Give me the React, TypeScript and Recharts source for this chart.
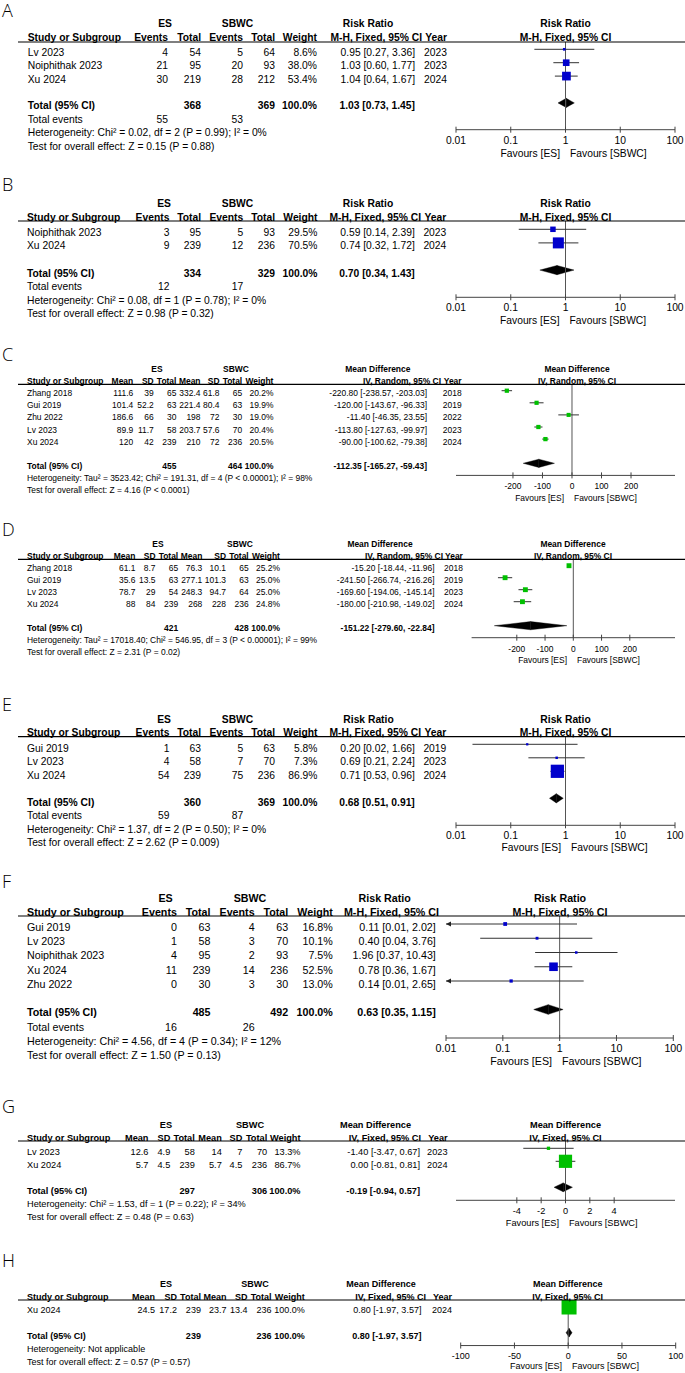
import React from "react";
import {
  ComposedChart,
  Scatter,
  ErrorBar,
  XAxis,
  YAxis,
  ReferenceLine,
  ReferenceArea,
} from "recharts";

const FONT = "'Liberation Sans', Arial, Helvetica, sans-serif";
const BLUE = "#0000cc";
const GREEN = "#00c000";
const AX_H = 24;

// A - risk ratio
const A_STUDY = ["Lv 2023", "Noiphithak 2023", "Xu 2024"];
const A_ES_EVENTS = [4, 21, 30];
const A_ES_TOTAL = [54, 95, 219];
const A_SBWC_EVENTS = [5, 20, 28];
const A_SBWC_TOTAL = [64, 93, 212];
const A_WEIGHT = [8.6, 38.0, 53.4];
const A_EST = [0.95, 1.03, 1.04];
const A_LOW = [0.27, 0.6, 0.64];
const A_HIGH = [3.36, 1.77, 1.67];
const A_YEAR = [2023, 2023, 2024];
const A_TOTAL_N = [368, 369];
const A_POOLED = [1.03, 0.73, 1.45];
const A_TOTAL_EVENTS = [55, 53];
const A_HET = "Heterogeneity: Chi² = 0.02, df = 2 (P = 0.99); I² = 0%";
const A_OVERALL = "Test for overall effect: Z = 0.15 (P = 0.88)";

// B - risk ratio
const B_STUDY = ["Noiphithak 2023", "Xu 2024"];
const B_ES_EVENTS = [3, 9];
const B_ES_TOTAL = [95, 239];
const B_SBWC_EVENTS = [5, 12];
const B_SBWC_TOTAL = [93, 236];
const B_WEIGHT = [29.5, 70.5];
const B_EST = [0.59, 0.74];
const B_LOW = [0.14, 0.32];
const B_HIGH = [2.39, 1.72];
const B_YEAR = [2023, 2024];
const B_TOTAL_N = [334, 329];
const B_POOLED = [0.7, 0.34, 1.43];
const B_TOTAL_EVENTS = [12, 17];
const B_HET = "Heterogeneity: Chi² = 0.08, df = 1 (P = 0.78); I² = 0%";
const B_OVERALL = "Test for overall effect: Z = 0.98 (P = 0.32)";

// C - mean difference, random
const C_STUDY = ["Zhang 2018", "Gui 2019", "Zhu 2022", "Lv 2023", "Xu 2024"];
const C_ES_MEAN = [111.6, 101.4, 186.6, 89.9, 120];
const C_ES_SD = [39, 52.2, 66, 11.7, 42];
const C_ES_TOTAL = [65, 63, 30, 58, 239];
const C_SBWC_MEAN = [332.4, 221.4, 198, 203.7, 210];
const C_SBWC_SD = [61.8, 80.4, 72, 57.6, 72];
const C_SBWC_TOTAL = [65, 63, 30, 70, 236];
const C_WEIGHT = [20.2, 19.9, 19.0, 20.4, 20.5];
const C_EST = [-220.8, -120.0, -11.4, -113.8, -90.0];
const C_LOW = [-238.57, -143.67, -46.35, -127.63, -100.62];
const C_HIGH = [-203.03, -96.33, 23.55, -99.97, -79.38];
const C_YEAR = [2018, 2019, 2022, 2023, 2024];
const C_TOTAL_N = [455, 464];
const C_POOLED = [-112.35, -165.27, -59.43];
const C_HET =
  "Heterogeneity: Tau² = 3523.42; Chi² = 191.31, df = 4 (P < 0.00001); I² = 98%";
const C_OVERALL = "Test for overall effect: Z = 4.16 (P < 0.0001)";

// D - mean difference, random
const D_STUDY = ["Zhang 2018", "Gui 2019", "Lv 2023", "Xu 2024"];
const D_ES_MEAN = [61.1, 35.6, 78.7, 88];
const D_ES_SD = [8.7, 13.5, 29, 84];
const D_ES_TOTAL = [65, 63, 54, 239];
const D_SBWC_MEAN = [76.3, 277.1, 248.3, 268];
const D_SBWC_SD = [10.1, 101.3, 94.7, 228];
const D_SBWC_TOTAL = [65, 63, 64, 236];
const D_WEIGHT = [25.2, 25.0, 25.0, 24.8];
const D_EST = [-15.2, -241.5, -169.6, -180.0];
const D_LOW = [-18.44, -266.74, -194.06, -210.98];
const D_HIGH = [-11.96, -216.26, -145.14, -149.02];
const D_YEAR = [2018, 2019, 2023, 2024];
const D_TOTAL_N = [421, 428];
const D_POOLED = [-151.22, -279.6, -22.84];
const D_HET =
  "Heterogeneity: Tau² = 17018.40; Chi² = 546.95, df = 3 (P < 0.00001); I² = 99%";
const D_OVERALL = "Test for overall effect: Z = 2.31 (P = 0.02)";

// E - risk ratio
const E_STUDY = ["Gui 2019", "Lv 2023", "Xu 2024"];
const E_ES_EVENTS = [1, 4, 54];
const E_ES_TOTAL = [63, 58, 239];
const E_SBWC_EVENTS = [5, 7, 75];
const E_SBWC_TOTAL = [63, 70, 236];
const E_WEIGHT = [5.8, 7.3, 86.9];
const E_EST = [0.2, 0.69, 0.71];
const E_LOW = [0.02, 0.21, 0.53];
const E_HIGH = [1.66, 2.24, 0.96];
const E_YEAR = [2019, 2023, 2024];
const E_TOTAL_N = [360, 369];
const E_POOLED = [0.68, 0.51, 0.91];
const E_TOTAL_EVENTS = [59, 87];
const E_HET = "Heterogeneity: Chi² = 1.37, df = 2 (P = 0.50); I² = 0%";
const E_OVERALL = "Test for overall effect: Z = 2.62 (P = 0.009)";

// F - risk ratio (no year column)
const F_STUDY = ["Gui 2019", "Lv 2023", "Noiphithak 2023", "Xu 2024", "Zhu 2022"];
const F_ES_EVENTS = [0, 1, 4, 11, 0];
const F_ES_TOTAL = [63, 58, 95, 239, 30];
const F_SBWC_EVENTS = [4, 3, 2, 14, 3];
const F_SBWC_TOTAL = [63, 70, 93, 236, 30];
const F_WEIGHT = [16.8, 10.1, 7.5, 52.5, 13.0];
const F_EST = [0.11, 0.4, 1.96, 0.78, 0.14];
const F_LOW = [0.01, 0.04, 0.37, 0.36, 0.01];
const F_HIGH = [2.02, 3.76, 10.43, 1.67, 2.65];
const F_TOTAL_N = [485, 492];
const F_POOLED = [0.63, 0.35, 1.15];
const F_TOTAL_EVENTS = [16, 26];
const F_HET = "Heterogeneity: Chi² = 4.56, df = 4 (P = 0.34); I² = 12%";
const F_OVERALL = "Test for overall effect: Z = 1.50 (P = 0.13)";

// G - mean difference, fixed
const G_STUDY = ["Lv 2023", "Xu 2024"];
const G_ES_MEAN = [12.6, 5.7];
const G_ES_SD = [4.9, 4.5];
const G_ES_TOTAL = [58, 239];
const G_SBWC_MEAN = [14, 5.7];
const G_SBWC_SD = [7, 4.5];
const G_SBWC_TOTAL = [70, 236];
const G_WEIGHT = [13.3, 86.7];
const G_EST = [-1.4, 0.0];
const G_LOW = [-3.47, -0.81];
const G_HIGH = [0.67, 0.81];
const G_YEAR = [2023, 2024];
const G_TOTAL_N = [297, 306];
const G_POOLED = [-0.19, -0.94, 0.57];
const G_HET = "Heterogeneity: Chi² = 1.53, df = 1 (P = 0.22); I² = 34%";
const G_OVERALL = "Test for overall effect: Z = 0.48 (P = 0.63)";

// H - mean difference, fixed
const H_STUDY = ["Xu 2024"];
const H_ES_MEAN = [24.5];
const H_ES_SD = [17.2];
const H_ES_TOTAL = [239];
const H_SBWC_MEAN = [23.7];
const H_SBWC_SD = [13.4];
const H_SBWC_TOTAL = [236];
const H_WEIGHT = [100.0];
const H_EST = [0.8];
const H_LOW = [-1.97];
const H_HIGH = [3.57];
const H_YEAR = [2024];
const H_TOTAL_N = [239, 236];
const H_POOLED = [0.8, -1.97, 3.57];
const H_HET = "Heterogeneity: Not applicable";
const H_OVERALL = "Test for overall effect: Z = 0.57 (P = 0.57)";

// axes
const RR_DOMAIN = [0.01, 100];
const RR_TICKS = [0.01, 0.1, 1, 10, 100];
const C_DOMAIN = [-393, 349];
const D_DOMAIN = [-360, 360];
const MD_TICKS = [-200, -100, 0, 100, 200];
const G_DOMAIN = [-9, 9];
const G_TICKS = [-4, -2, 0, 2, 4];
const H_DOMAIN = [-100, 100];
const H_TICKS = [-100, -50, 0, 50, 100];

const f2 = (v: number) => v.toFixed(2);
const ciText = (e: number, l: number, h: number) => `${f2(e)} [${f2(l)}, ${f2(h)}]`;
const pct = (w: number) => `${w.toFixed(1)}%`;

type Row = { est: number; lo: number; hi: number; w: number; name: string; cells: string[] };

function rrRows(study, e1, n1, e2, n2, w, est, lo, hi, year?): Row[] {
  return study.map((s, i) => ({
    name: s,
    est: est[i],
    lo: lo[i],
    hi: hi[i],
    w: w[i],
    cells: [
      String(e1[i]),
      String(n1[i]),
      String(e2[i]),
      String(n2[i]),
      pct(w[i]),
      ciText(est[i], lo[i], hi[i]),
      ...(year ? [String(year[i])] : []),
    ],
  }));
}

function mdRows(study, m1, sd1, n1, m2, sd2, n2, w, est, lo, hi, year): Row[] {
  return study.map((s, i) => ({
    name: s,
    est: est[i],
    lo: lo[i],
    hi: hi[i],
    w: w[i],
    cells: [
      String(m1[i]),
      String(sd1[i]),
      String(n1[i]),
      String(m2[i]),
      String(sd2[i]),
      String(n2[i]),
      pct(w[i]),
      ciText(est[i], lo[i], hi[i]),
      String(year[i]),
    ],
  }));
}

const PANELS = [
  {
    letter: "A",
    kind: "RR",
    method: "M-H, Fixed, 95% CI",
    rows: rrRows(A_STUDY, A_ES_EVENTS, A_ES_TOTAL, A_SBWC_EVENTS, A_SBWC_TOTAL, A_WEIGHT, A_EST, A_LOW, A_HIGH, A_YEAR),
    totals: A_TOTAL_N,
    pooled: A_POOLED,
    events: A_TOTAL_EVENTS,
    het: A_HET,
    overall: A_OVERALL,
    domain: RR_DOMAIN,
    ticks: RR_TICKS,
    L: { h: 160, fs: 10.3, sx: 1, letterBase: 17, groupY: 23.5, subY: 37, lineY: 42, firstMark: 49.3, rowH: 13.4, textOff: 2.7, axisGap: 2, nameX: 27.7, cols: [168, 201, 243, 275, 317, 415, 447], ciHead: 422, esC: 165, sbC: 237.5, effC: 368, plotL: 456, plotR: 675, plotHead: 565.5, favX: 565, favDy: 27, tickDy: 14 },
  },
  {
    letter: "B",
    kind: "RR",
    method: "M-H, Fixed, 95% CI",
    rows: rrRows(B_STUDY, B_ES_EVENTS, B_ES_TOTAL, B_SBWC_EVENTS, B_SBWC_TOTAL, B_WEIGHT, B_EST, B_LOW, B_HIGH, B_YEAR),
    totals: B_TOTAL_N,
    pooled: B_POOLED,
    events: B_TOTAL_EVENTS,
    het: B_HET,
    overall: B_OVERALL,
    domain: RR_DOMAIN,
    ticks: RR_TICKS,
    L: { h: 170, fs: 10.3, sx: 1, letterBase: 31, groupY: 43.3, subY: 57.3, lineY: 61, firstMark: 69.3, rowH: 13.6, textOff: 2.7, axisGap: 2, nameX: 27, cols: [169.4, 201, 243.2, 275, 317.5, 414.8, 446.3], ciHead: 421, esC: 164, sbC: 237.5, effC: 368, plotL: 456, plotR: 675, plotHead: 565.5, favX: 564.5, favDy: 27, tickDy: 14 },
  },
  {
    letter: "C",
    kind: "MD",
    method: "IV, Random, 95% CI",
    rows: mdRows(C_STUDY, C_ES_MEAN, C_ES_SD, C_ES_TOTAL, C_SBWC_MEAN, C_SBWC_SD, C_SBWC_TOTAL, C_WEIGHT, C_EST, C_LOW, C_HIGH, C_YEAR),
    totals: C_TOTAL_N,
    pooled: C_POOLED,
    het: C_HET,
    overall: C_OVERALL,
    domain: C_DOMAIN,
    ticks: MD_TICKS,
    L: { h: 175, fs: 9, sx: 0.94, letterBase: 31, groupY: 38.3, subY: 51, lineY: 54.3, firstMark: 60.7, rowH: 12.1, textOff: 2.3, axisGap: 1, nameX: 27, cols: [133.2, 153.7, 176.4, 200.5, 219.5, 242.2, 273.4, 427, 461.6], ciHead: 441, esC: 157, sbC: 236, effC: 377.8, plotL: 456, plotR: 675, plotHead: 577, favX: 569, favDy: 26, tickDy: 14 },
  },
  {
    letter: "D",
    kind: "MD",
    method: "IV, Random, 95% CI",
    rows: mdRows(D_STUDY, D_ES_MEAN, D_ES_SD, D_ES_TOTAL, D_SBWC_MEAN, D_SBWC_SD, D_SBWC_TOTAL, D_WEIGHT, D_EST, D_LOW, D_HIGH, D_YEAR),
    totals: D_TOTAL_N,
    pooled: D_POOLED,
    het: D_HET,
    overall: D_OVERALL,
    domain: D_DOMAIN,
    ticks: MD_TICKS,
    L: { h: 175, fs: 9, sx: 0.94, letterBase: 31, groupY: 38.3, subY: 51, lineY: 54.3, firstMark: 60.7, rowH: 12, textOff: 2.2, axisGap: 1, nameX: 27, cols: [135.4, 155.5, 178.2, 202.3, 226, 248.7, 279.9, 434.5, 462.9], ciHead: 443, esC: 158, sbC: 240, effC: 380, plotL: 471.6, plotR: 675, plotHead: 573, favX: 572, favDy: 25, tickDy: 14 },
  },
  {
    letter: "E",
    kind: "RR",
    method: "M-H, Fixed, 95% CI",
    rows: rrRows(E_STUDY, E_ES_EVENTS, E_ES_TOTAL, E_SBWC_EVENTS, E_SBWC_TOTAL, E_WEIGHT, E_EST, E_LOW, E_HIGH, E_YEAR),
    totals: E_TOTAL_N,
    pooled: E_POOLED,
    events: E_TOTAL_EVENTS,
    het: E_HET,
    overall: E_OVERALL,
    domain: RR_DOMAIN,
    ticks: RR_TICKS,
    L: { h: 175, fs: 10.3, sx: 1, letterBase: 31, groupY: 39, subY: 52.3, lineY: 56.7, firstMark: 64.3, rowH: 13.5, textOff: 3.5, axisGap: 2, nameX: 27, cols: [169.4, 201, 243.2, 275, 317.5, 414.8, 446.3], ciHead: 421, esC: 164, sbC: 237.5, effC: 368.5, plotL: 456, plotR: 675, plotHead: 565.5, favX: 566, favDy: 26, tickDy: 14 },
  },
  {
    letter: "F",
    kind: "RR",
    method: "M-H, Fixed, 95% CI",
    rows: rrRows(F_STUDY, F_ES_EVENTS, F_ES_TOTAL, F_SBWC_EVENTS, F_SBWC_TOTAL, F_WEIGHT, F_EST, F_LOW, F_HIGH),
    totals: F_TOTAL_N,
    pooled: F_POOLED,
    events: F_TOTAL_EVENTS,
    het: F_HET,
    overall: F_OVERALL,
    domain: RR_DOMAIN,
    ticks: RR_TICKS,
    L: { h: 230, fs: 10.7, sx: 1, letterBase: 32.5, groupY: 42.7, subY: 57.3, lineY: 61, firstMark: 69, rowH: 14.25, textOff: 3, axisGap: 2, nameX: 27, cols: [176.9, 210.5, 254.6, 288.2, 332.8, 435.8], ciHead: 439, esC: 165.5, sbC: 250, effC: 384.7, plotL: 446, plotR: 673.3, plotHead: 560, favX: 557, favDy: 26.5, tickDy: 13.5 },
  },
  {
    letter: "G",
    kind: "MD",
    method: "IV, Fixed, 95% CI",
    rows: mdRows(G_STUDY, G_ES_MEAN, G_ES_SD, G_ES_TOTAL, G_SBWC_MEAN, G_SBWC_SD, G_SBWC_TOTAL, G_WEIGHT, G_EST, G_LOW, G_HIGH, G_YEAR),
    totals: G_TOTAL_N,
    pooled: G_POOLED,
    het: G_HET,
    overall: G_OVERALL,
    domain: G_DOMAIN,
    ticks: G_TICKS,
    L: { h: 165, fs: 9.8, sx: 0.94, letterBase: 28, groupY: 39.3, subY: 52.7, lineY: 56, firstMark: 63.3, rowH: 13, textOff: 3.3, axisGap: 1, nameX: 27, cols: [148.5, 170.3, 194.8, 221.8, 242.4, 267.2, 300.5, 420, 447.6], ciHead: 421, esC: 166, sbC: 250, effC: 375.5, plotL: 456, plotR: 675, plotHead: 565.5, favX: 564, favDy: 26, tickDy: 14 },
  },
  {
    letter: "H",
    kind: "MD",
    method: "IV, Fixed, 95% CI",
    rows: mdRows(H_STUDY, H_ES_MEAN, H_ES_SD, H_ES_TOTAL, H_SBWC_MEAN, H_SBWC_SD, H_SBWC_TOTAL, H_WEIGHT, H_EST, H_LOW, H_HIGH, H_YEAR),
    totals: H_TOTAL_N,
    pooled: H_POOLED,
    het: H_HET,
    overall: H_OVERALL,
    domain: H_DOMAIN,
    ticks: H_TICKS,
    L: { h: 123, fs: 9.6, sx: 0.94, letterBase: 17, groupY: 33.3, subY: 46.7, lineY: 50, firstMark: 57, rowH: 12.85, textOff: 2.7, axisGap: 1, nameX: 27, cols: [155, 176.9, 200.9, 226.5, 247.6, 271.6, 304.7, 421.4, 452], ciHead: 426, esC: 166, sbC: 255, effC: 381, plotL: 460.7, plotR: 675.7, plotHead: 567.7, favX: 567, favDy: 23.5, tickDy: 13.5 },
  },
];

// text squeezed horizontally around its anchor point
function Tx({ x, y, sx, anchor = "start", bold = false, children }: any) {
  return (
    <text
      transform={`translate(${x},${y}) scale(${sx},1)`}
      textAnchor={anchor}
      fontWeight={bold ? "bold" : "normal"}
    >
      {children}
    </text>
  );
}

function Panel({ p }) {
  const L = p.L;
  const sx = L.sx;
  const isRR = p.kind === "RR";
  const n = p.rows.length;
  const totalIdx = n + 1;
  const axisIdx = totalIdx + L.axisGap;
  const topIdx = (L.lineY - L.firstMark) / L.rowH;
  const axisPx = L.firstMark + axisIdx * L.rowH;
  const base = (i: number) => L.firstMark + i * L.rowH + L.textOff + 0.36 * L.fs;
  const color = isRR ? BLUE : GREEN;
  const ciIdx = isRR ? 5 : 7;
  const title = isRR ? "Risk Ratio" : "Mean Difference";

  const data = p.rows.map((r: Row, i: number) => ({
    x: r.est,
    y: i,
    w: r.w,
    err: [r.est - r.lo, r.hi - r.est],
  }));
  // CI running off the left end of the axis gets an arrow
  const arrows = p.rows
    .map((r: Row, i: number) => ({ x: r.lo, y: i }))
    .filter((d) => d.x <= p.domain[0]);

  const heads = isRR
    ? ["Events", "Total", "Events", "Total", "Weight", p.method, "Year"]
    : ["Mean", "SD", "Total", "Mean", "SD", "Total", "Weight", p.method, "Year"];
  const [pe, pl, ph] = p.pooled;
  const totalCells = isRR
    ? ["", String(p.totals[0]), "", String(p.totals[1]), "100.0%", ciText(pe, pl, ph)]
    : ["", "", String(p.totals[0]), "", "", String(p.totals[1]), "100.0%", ciText(pe, pl, ph)];
  const hetIdx = isRR ? totalIdx + 2 : totalIdx + 1;
  const gy = L.groupY + 0.36 * L.fs;
  const sy = L.subY + 0.36 * L.fs;

  const square = (s: any) => {
    const side = 1.5 + 0.135 * s.payload.w;
    return <rect x={s.cx - side / 2} y={s.cy - side / 2} width={side} height={side} fill={color} />;
  };
  const arrow = (s: any) => (
    <polygon
      points={`${s.cx},${s.cy} ${s.cx + 5},${s.cy - 2.4} ${s.cx + 5},${s.cy + 2.4}`}
      fill="#222"
    />
  );
  const leftHalf = (r: any) => (
    <polygon
      points={`${r.x},${r.y + r.height / 2} ${r.x + r.width},${r.y} ${r.x + r.width},${r.y + r.height}`}
      fill="#000"
      stroke="#000"
      strokeWidth={0.4}
    />
  );
  const rightHalf = (r: any) => (
    <polygon
      points={`${r.x},${r.y} ${r.x + r.width},${r.y + r.height / 2} ${r.x},${r.y + r.height}`}
      fill="#000"
      stroke="#000"
      strokeWidth={0.4}
    />
  );
  const tick = (t: any) => (
    <g>
      <line x1={t.x} x2={t.x} y1={t.y - 3} y2={t.y + 3} stroke="#444" />
      <text
        transform={`translate(${t.x},${t.y + L.tickDy}) scale(${sx},1)`}
        textAnchor="middle"
        fontSize={L.fs}
        fontFamily={FONT}
        fill="#000"
      >
        {String(t.payload.value)}
      </text>
    </g>
  );

  return (
    <div style={{ position: "relative", width: 685, height: L.h }}>
      <ComposedChart
        width={685}
        height={L.h}
        data={data}
        margin={{ top: L.lineY, right: 685 - L.plotR, bottom: L.h - axisPx - AX_H, left: L.plotL }}
      >
        <XAxis
          type="number"
          dataKey="x"
          scale={isRR ? "log" : "linear"}
          domain={p.domain}
          ticks={p.ticks}
          interval={0}
          allowDataOverflow
          height={AX_H}
          tickLine={false}
          tickSize={0}
          tickMargin={0}
          axisLine={{ stroke: "#444" }}
          tick={tick}
        />
        <YAxis type="number" dataKey="y" domain={[topIdx, axisIdx]} reversed hide allowDataOverflow />
        <ReferenceLine x={isRR ? 1 : 0} stroke="#555" />
        <ReferenceArea x1={pl} x2={pe} y1={totalIdx - 0.34} y2={totalIdx + 0.34} shape={leftHalf} />
        <ReferenceArea x1={pe} x2={ph} y1={totalIdx - 0.34} y2={totalIdx + 0.34} shape={rightHalf} />
        <Scatter data={data} fill={color} shape={square} isAnimationActive={false}>
          <ErrorBar dataKey="err" direction="x" width={0} stroke="#333" strokeWidth={1} isAnimationActive={false} />
        </Scatter>
        {arrows.length > 0 && <Scatter data={arrows} shape={arrow} isAnimationActive={false} />}
      </ComposedChart>

      <svg
        width={685}
        height={L.h}
        style={{ position: "absolute", left: 0, top: 0, pointerEvents: "none", overflow: "visible" }}
        fontFamily={FONT}
        fill="#000"
      >
        <text x={2} y={L.letterBase} fontSize={18} fontFamily="'Open Sans', 'DejaVu Sans', sans-serif" fontWeight={300}>
          {p.letter}
        </text>

        {/* column headers */}
        <g fontSize={L.fs}>
          <Tx x={L.esC} y={gy} sx={sx} anchor="middle" bold>ES</Tx>
          <Tx x={L.sbC} y={gy} sx={sx} anchor="middle" bold>SBWC</Tx>
          <Tx x={L.effC} y={gy} sx={sx} anchor="middle" bold>{title}</Tx>
          <Tx x={L.plotHead} y={gy} sx={sx} anchor="middle" bold>{title}</Tx>
          <Tx x={L.nameX} y={sy} sx={sx} bold>Study or Subgroup</Tx>
          {L.cols.map((cx: number, k: number) => (
            <Tx key={k} x={k === ciIdx ? L.ciHead : cx} y={sy} sx={sx} anchor="end" bold>
              {heads[k]}
            </Tx>
          ))}
          <Tx x={L.plotHead} y={sy} sx={sx} anchor="middle" bold>{p.method}</Tx>
        </g>
        <line x1={18} x2={685} y1={L.lineY} y2={L.lineY} stroke="#000" strokeWidth={1.2} />

        {/* study rows */}
        <g fontSize={L.fs}>
          {p.rows.map((r: Row, i: number) => (
            <g key={r.name}>
              <Tx x={L.nameX} y={base(i)} sx={sx}>{r.name}</Tx>
              {r.cells.map((c, k) => (
                <Tx key={k} x={L.cols[k]} y={base(i)} sx={sx} anchor="end">{c}</Tx>
              ))}
            </g>
          ))}
        </g>

        {/* pooled row */}
        <g fontSize={L.fs}>
          <Tx x={L.nameX} y={base(totalIdx)} sx={sx} bold>Total (95% CI)</Tx>
          {totalCells.map((c, k) =>
            c ? (
              <Tx key={k} x={L.cols[k]} y={base(totalIdx)} sx={sx} anchor="end" bold>{c}</Tx>
            ) : null
          )}
        </g>

        <g fontSize={L.fs}>
          {isRR && (
            <>
              <Tx x={L.nameX} y={base(totalIdx + 1)} sx={sx}>Total events</Tx>
              <Tx x={L.cols[0]} y={base(totalIdx + 1)} sx={sx} anchor="end">{String(p.events[0])}</Tx>
              <Tx x={L.cols[2]} y={base(totalIdx + 1)} sx={sx} anchor="end">{String(p.events[1])}</Tx>
            </>
          )}
          <Tx x={L.nameX} y={base(hetIdx)} sx={sx}>{p.het}</Tx>
          <Tx x={L.nameX} y={base(hetIdx + 1)} sx={sx}>{p.overall}</Tx>
          <Tx x={L.favX - 5} y={axisPx + L.favDy} sx={sx} anchor="end">Favours [ES]</Tx>
          <Tx x={L.favX + 5} y={axisPx + L.favDy} sx={sx}>Favours [SBWC]</Tx>
        </g>
      </svg>
    </div>
  );
}

export default function App() {
  return (
    <div style={{ width: 685, background: "#fff" }}>
      <style>{"body{margin:0;background:#fff}"}</style>
      {PANELS.map((p) => (
        <Panel key={p.letter} p={p} />
      ))}
    </div>
  );
}
